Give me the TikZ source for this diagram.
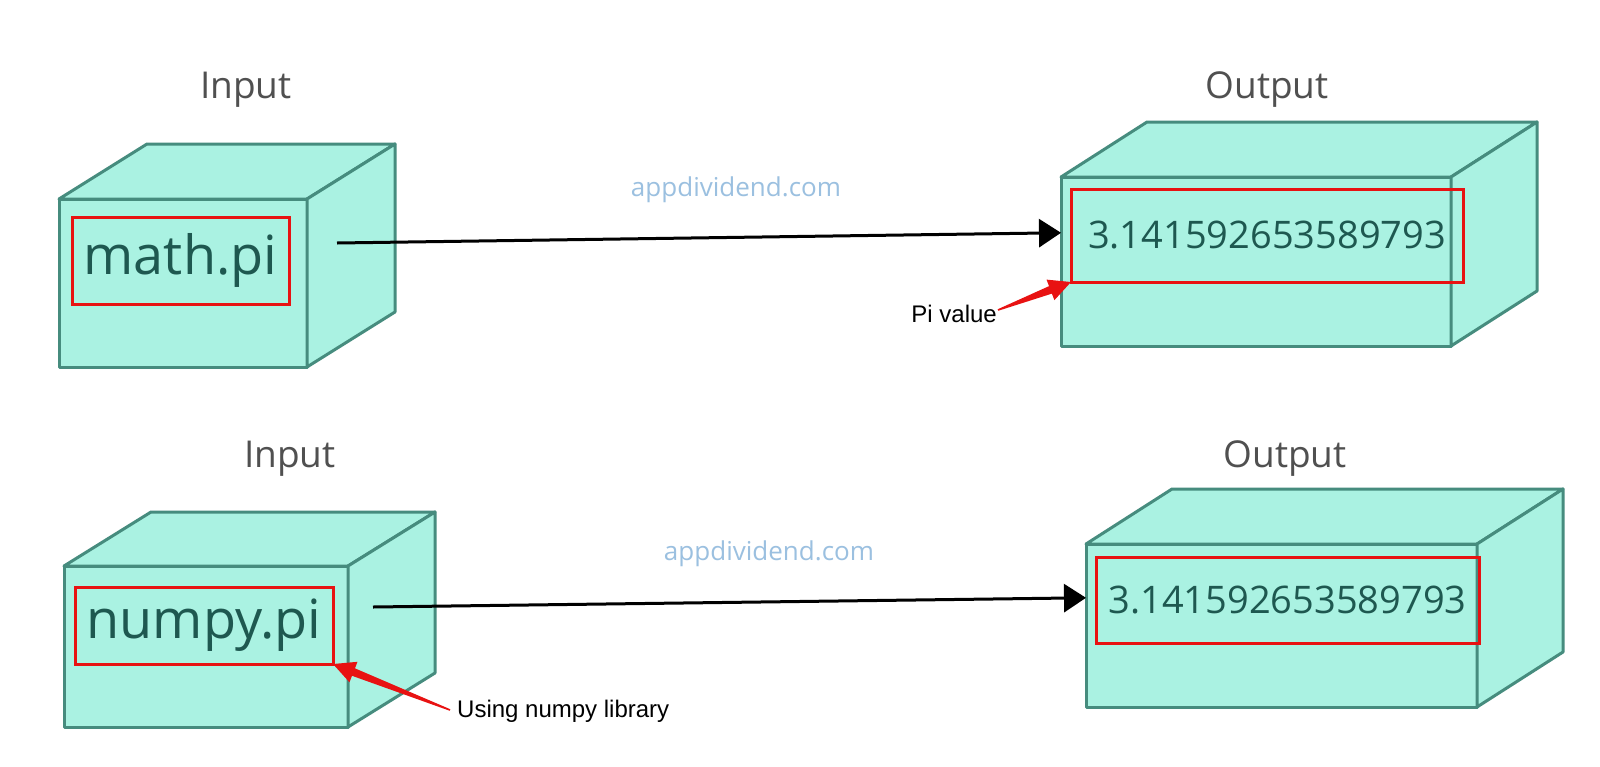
\documentclass[tikz,border=0pt]{standalone}
\usepackage{fontspec}
\setmainfont{Open Sans}
\newfontfamily\arialf{Liberation Sans}
\usetikzlibrary{calc,arrows.meta}
\definecolor{boxfill}{RGB}{170,242,226}
\definecolor{boxline}{RGB}{70,140,126}
\definecolor{boxtext}{RGB}{30,88,80}
\definecolor{titlec}{RGB}{80,80,80}
\definecolor{markc}{RGB}{155,192,224}
\definecolor{redc}{RGB}{232,18,18}
\newcommand\cubefaces[3]{%
  \draw[face] (#1.north west) -- ($(#1.north west)+(#2,#3)$) -- ($(#1.north east)+(#2,#3)$) -- (#1.north east) -- cycle;
  \draw[face] (#1.north east) -- ($(#1.north east)+(#2,#3)$) -- ($(#1.south east)+(#2,#3)$) -- (#1.south east) -- cycle;
}
\newcommand\redarrow[2]{%
  \coordinate (hb) at ($(#2)!22pt!(#1)$);
  \fill[redc] ($(#1)!0.8pt!90:(#2)$) -- ($(hb)!4pt!90:(#2)$) -- ($(hb)!11pt!90:(#2)$) -- (#2)
     -- ($(hb)!11pt!-90:(#2)$) -- ($(hb)!4pt!-90:(#2)$) -- ($(#1)!0.8pt!-90:(#2)$) -- cycle;
}
\begin{document}
\begin{tikzpicture}[x=1pt,y=-1pt,
  face/.style={draw=boxline,fill=boxfill,line width=3pt,line join=round},
  front/.style={face,inner sep=0pt,outer sep=0pt},
  redbox/.style={draw=redc,line width=3pt,inner sep=0pt,outer sep=0pt,text=boxtext},
  bigtxt/.style={font=\fontsize{54}{60}\selectfont},
  numtxt/.style={font=\fontsize{38}{44}\selectfont},
  ttl/.style={font=\fontsize{37}{42}\selectfont,text=titlec,inner sep=0pt,anchor=base},
  wm/.style={font=\fontsize{26}{30}\selectfont,text=markc,inner sep=0pt},
  lbl/.style={font=\arialf\fontsize{24}{28}\selectfont,text=black,inner sep=0pt},
  conn/.style={draw=black,line width=3pt,-{Triangle[length=22pt,width=28pt]}}
]
\useasboundingbox (0,0) rectangle (1600,766);
\fill[white] (0,0) rectangle (1600,766);

% titles
\node[ttl] (t1) at (246,98) {Input};
\node[ttl] (t2) at (1267,98) {Output};
\node[ttl] (t3) at (290,467) {Input};
\node[ttl] (t4) at (1285,467) {Output};

% watermarks
\node[wm] (w1) at (736,190) {appdividend.com};
\node[wm] (w2) at (769,554) {appdividend.com};

% cubes
\node[front,minimum width=248pt,minimum height=168pt] (i1) at (183,283) {};
\cubefaces{i1}{88}{-55}
\node[front,minimum width=390pt,minimum height=169pt] (o1) at (1256,261.5) {};
\cubefaces{o1}{86}{-55}
\node[front,minimum width=284pt,minimum height=161pt] (i2) at (206,646.5) {};
\cubefaces{i2}{87}{-54}
\node[front,minimum width=391pt,minimum height=163pt] (o2) at (1281.5,625.5) {};
\cubefaces{o2}{86}{-55}

% red boxes with text
\node[redbox,bigtxt,minimum width=217pt,minimum height=87pt] (r1) at (180.5,260.5) {math.pi};
\node[redbox,numtxt,minimum width=392pt,minimum height=93pt] (r2) at (1267,235.5) {3.141592653589793};
\node[redbox,bigtxt,minimum width=258pt,minimum height=77pt] (r3) at (204,625.5) {numpy.pi};
\node[redbox,numtxt,minimum width=383pt,minimum height=86pt] (r4) at (1287.5,600) {3.141592653589793};

% connectors
\coordinate (s1) at (337,243);
\coordinate (e1) at ($(o1.north west)!0.33!(o1.south west)$);
\draw[conn] (s1) -- (e1);
\coordinate (s2) at (373,607);
\coordinate (e2) at ($(o2.north west)!0.33!(o2.south west)$);
\draw[conn] (s2) -- (e2);

% annotations
\node[lbl,anchor=east] (pv) at (997,314) {Pi value};
\coordinate (pvt) at ($(pv.east)+(1,-4)$);
\redarrow{pvt}{r2.south west}
\node[lbl,anchor=base west] (un) at (457,717) {Using numpy library};
\coordinate (unt) at ($(un.base west)+(-7,-7)$);
\redarrow{unt}{r3.south east}
\end{tikzpicture}
\end{document}
